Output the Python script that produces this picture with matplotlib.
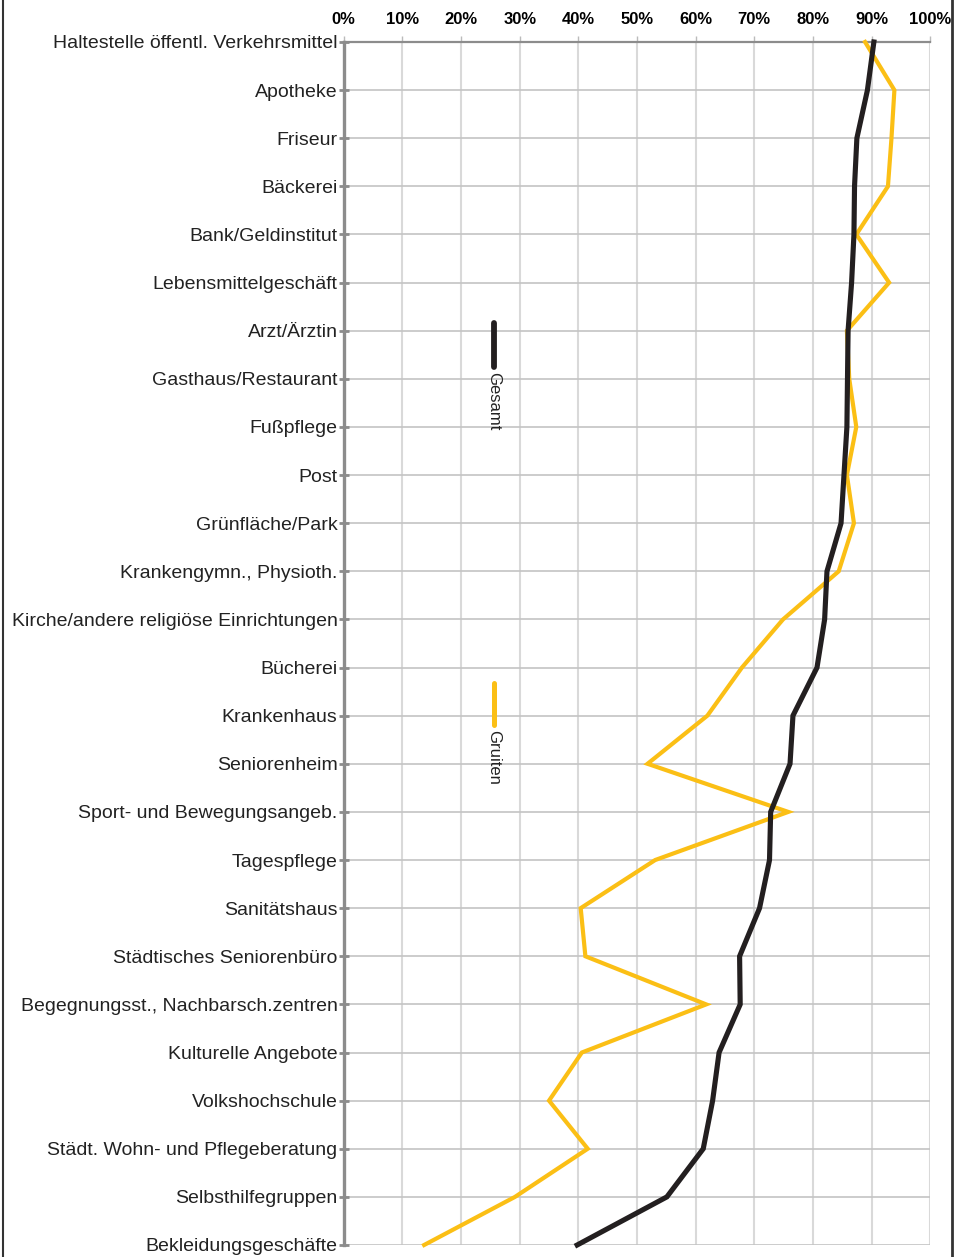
import numpy as np
import matplotlib
matplotlib.use('Agg')
import matplotlib.pyplot as plt
from matplotlib.lines import Line2D

#-------------- DATA

categories = [
    "Haltestelle öffentl. Verkehrsmittel", "Apotheke", "Friseur", "Bäckerei",
    "Bank/Geldinstitut", "Lebensmittelgeschäft", "Arzt/Ärztin",
    "Gasthaus/Restaurant", "Fußpflege", "Post", "Grünfläche/Park",
    "Krankengymn., Physioth.", "Kirche/andere religiöse Einrichtungen",
    "Bücherei", "Krankenhaus", "Seniorenheim", "Sport- und Bewegungsangeb.",
    "Tagespflege", "Sanitätshaus", "Städtisches Seniorenbüro",
    "Begegnungsst., Nachbarsch.zentren", "Kulturelle Angebote",
    "Volkshochschule", "Städt. Wohn- und Pflegeberatung",
    "Selbsthilfegruppen", "Bekleidungsgeschäfte",
]

gesamt = [90.4, 89.3, 87.5, 87.1, 87.0, 86.6, 86.0, 85.9, 85.8, 85.3,
          84.8, 82.4, 82.0, 80.7, 76.6, 76.1, 72.8, 72.6, 70.9, 67.5,
          67.6, 64.0, 62.9, 61.3, 55.1, 39.8]

gruiten = [88.9, 93.9, 93.4, 92.8, 87.4, 93.0, 85.8, 86.2, 87.4, 85.8,
           87.0, 84.4, 74.9, 67.9, 62.0, 51.8, 75.8, 53.1, 40.4, 41.2,
           61.8, 40.6, 35.0, 41.6, 29.2, 13.7]

series_names = ["Gesamt", "Gruiten"]
xticks = np.arange(0, 101, 10)

#-------------- SET UP

plt.rcParams['font.family'] = ['Liberation Sans', 'DejaVu Sans']
fig = plt.figure(figsize=(9.55, 12.57), dpi=100)
ax = fig.add_axes([0.360, 0.00955, 0.614, 0.95705])

y = np.arange(len(categories))

#-------------- PLOT

ax.plot(gruiten, y, '-', color='#fbbf15', linewidth=3.0, clip_on=False,
        solid_joinstyle='miter', zorder=3)
ax.plot(gesamt, y, '-', color='#231f20', linewidth=3.7, clip_on=False,
        solid_joinstyle='miter', zorder=4)

ax.set_xlim(0, 100)
ax.set_ylim(len(categories) - 1, 0)
ax.set_yticks(y)
ax.set_yticklabels(categories, fontsize=14, color='#222222')
ax.set_xticks(xticks)
ax.set_xticklabels([f"{v}%" for v in xticks], fontsize=12, fontweight='bold')
ax.xaxis.tick_top()

ax.tick_params(axis='y', direction='inout', length=7, width=2, color='#8c8c8c', pad=1)
ax.tick_params(axis='x', direction='out', length=4, width=1, color='#bbbbbb', pad=7)

ax.grid(axis='x', color='#d9d9d9', linewidth=1.5, zorder=0)
ax.grid(axis='y', color='#c4c4c4', linewidth=1.2, zorder=0)

for s in ['right', 'bottom']:
    ax.spines[s].set_visible(False)
ax.spines['left'].set_color('#8c8c8c')
ax.spines['left'].set_linewidth(2.4)
ax.spines['top'].set_color('#8c8c8c')
ax.spines['top'].set_linewidth(1.6)

#-------------- LEGEND (vertical swatches with rotated text)

leg_x = 25.6
ax.plot([leg_x, leg_x], [5.85, 6.75], color='#231f20', linewidth=4.2,
        solid_capstyle='round', zorder=5)
ax.text(leg_x, 6.86, series_names[0], rotation=-90, ha='center', va='top',
        fontsize=12, color='#222222')
ax.plot([leg_x, leg_x], [13.32, 14.2], color='#fbbf15', linewidth=3.6,
        solid_capstyle='round', zorder=5)
ax.text(leg_x, 14.3, series_names[1], rotation=-90, ha='center', va='top',
        fontsize=12, color='#222222')

#-------------- FRAME AROUND FIGURE

fig.add_artist(Line2D([0.003, 0.003], [0, 1], color='#333333', linewidth=1.5))
fig.add_artist(Line2D([0.997, 0.997], [0, 1], color='#333333', linewidth=2.0))

plt.savefig("out.png", dpi=100)
